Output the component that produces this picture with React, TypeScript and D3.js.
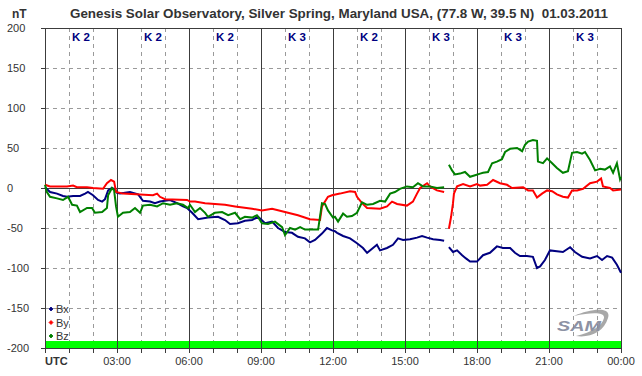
import React from "react";
import * as d3 from "d3";

const title = "Genesis Solar Observatory, Silver Spring, Maryland USA, (77.8 W, 39.5 N)  01.03.2011";
const unitLabel = "nT";
const kIndices = ["K 2", "K 2", "K 2", "K 3", "K 2", "K 3", "K 3", "K 3"];
const yTicks = [200, 150, 100, 50, 0, -50, -100, -150, -200];
const xTickLabels = ["UTC", "03:00", "06:00", "09:00", "12:00", "15:00", "18:00", "21:00", "00:00"];
const legendNames = ["Bx", "By", "Bz"];
const seriesColors = ["#000080", "#ff0000", "#008000"];

// hours UTC; null marks the data gap
const bxTimes = [0, 0.21, 0.5, 0.75, 0.92, 1.17, 1.46, 1.67, 1.79, 2.0, 2.21, 2.38, 2.5, 2.63, 2.79, 2.92, 3.0, 3.13, 3.54, 3.88, 4.08, 4.38, 4.58, 4.79, 5.0, 5.21, 5.5, 5.75, 5.92, 6.13, 6.38, 6.79, 7.21, 7.5, 7.71, 8.04, 8.33, 8.63, 8.88, 9.17, 9.46, 9.71, 10.0, 10.29, 10.54, 10.83, 11.04, 11.25, 11.54, 11.75, 11.96, 12.08, 12.17, 12.42, 12.71, 13.0, 13.25, 13.42, 13.54, 13.83, 13.96, 14.25, 14.5, 14.71, 14.92, 15.21, 15.5, 15.71, 15.92, 16.17, 16.46, 16.63, 16.73, 16.83, 17.0, 17.17, 17.38, 17.54, 17.71, 18.0, 18.25, 18.54, 18.83, 19.08, 19.38, 19.58, 19.79, 20.08, 20.33, 20.5, 20.63, 20.83, 21.04, 21.33, 21.58, 21.88, 22.08, 22.38, 22.71, 23.0, 23.21, 23.42, 23.63, 23.83, 24];
const bxValues = [1, -5, -7, -10, -11, -10, -10, -7, -5, -9, -15, -17, -14, -3, 0, -2, -6, -7, -5, -8, -16, -17, -19, -17, -16, -15, -19, -23, -25, -31, -39, -37, -36, -40, -45, -44, -41, -40, -36, -44, -42, -50, -55, -56, -61, -63, -68, -65, -57, -50, -53, -54, -56, -60, -63, -69, -75, -81, -78, -71, -78, -75, -71, -63, -65, -64, -62, -60, -62, -64, -65, -66, null, -74, -80, -78, -84, -88, -92, -92, -84, -81, -73, -75, -75, -81, -85, -85, -86, -100, -98, -90, -78, -79, -80, -74, -80, -86, -88, -85, -90, -85, -87, -96, -106];

const byTimes = [0, 0.21, 0.5, 0.92, 1.17, 1.33, 1.75, 2.0, 2.42, 2.58, 2.75, 2.88, 2.96, 3.25, 3.96, 4.5, 4.67, 4.79, 5.0, 5.92, 6.04, 6.25, 6.67, 7.5, 7.92, 8.63, 9.04, 9.46, 10.0, 10.54, 11.04, 11.46, 11.54, 11.79, 11.96, 12.29, 12.71, 12.92, 13.0, 13.21, 13.42, 13.96, 14.25, 14.46, 14.67, 15.08, 15.33, 15.5, 15.63, 15.92, 16.04, 16.33, 16.63, 16.73, 16.83, 16.92, 17.0, 17.04, 17.17, 17.42, 17.71, 18.0, 18.13, 18.42, 18.67, 18.96, 19.25, 19.46, 19.92, 20.13, 20.33, 20.5, 20.71, 20.92, 21.13, 21.33, 21.58, 21.79, 21.96, 22.17, 22.42, 22.71, 23.0, 23.17, 23.25, 23.54, 23.67, 24];
const byValues = [4, 2, 2, 2, 3, 1, 1, 0, -1, 6, 10, 8, -5, -7, -8, -9, -7, -11, -14, -15, -17, -17, -19, -21, -23, -26, -28, -26, -30, -34, -39, -40, -23, -11, -9, -7, -4, -5, -11, -19, -25, -26, -23, -17, -20, -22, -17, -7, 0, 6, 2, -3, -5, null, -51, -36, -19, -7, 2, 5, 2, 5, 3, 4, 10, 6, 4, 0, 1, -3, -3, -12, -7, -3, -4, -8, -11, -12, -3, -3, -1, 6, 8, 12, 2, 0, -3, -2];

const bzTimes = [0, 0.08, 0.21, 0.5, 0.75, 0.96, 1.13, 1.33, 1.46, 1.75, 1.96, 2.08, 2.38, 2.58, 2.63, 2.79, 2.88, 2.96, 3.04, 3.25, 3.54, 3.75, 3.96, 4.08, 4.38, 4.67, 4.92, 5.21, 5.5, 5.75, 5.96, 6.04, 6.25, 6.46, 6.67, 6.79, 7.08, 7.38, 7.63, 7.92, 8.13, 8.33, 8.63, 8.83, 9.04, 9.29, 9.58, 9.88, 10.0, 10.21, 10.42, 10.63, 10.83, 11.38, 11.54, 11.67, 11.79, 12.0, 12.08, 12.21, 12.42, 12.58, 12.79, 13.0, 13.21, 13.42, 13.67, 13.96, 14.17, 14.38, 14.58, 14.79, 15.08, 15.33, 15.54, 15.75, 16.04, 16.33, 16.63, 16.73, 16.83, 16.96, 17.08, 17.29, 17.5, 17.71, 17.92, 18.13, 18.25, 18.46, 18.63, 18.83, 19.04, 19.17, 19.38, 19.67, 19.88, 20.0, 20.13, 20.33, 20.5, 20.54, 20.75, 20.92, 21.13, 21.33, 21.58, 21.79, 21.96, 22.17, 22.38, 22.5, 22.71, 22.92, 23.13, 23.33, 23.54, 23.67, 23.83, 23.96, 24];
const bzValues = [4, -5, -11, -13, -15, -11, -21, -22, -30, -25, -25, -31, -30, -25, -9, 0, -3, -23, -36, -31, -30, -25, -31, -22, -21, -23, -19, -21, -19, -21, -25, -21, -30, -25, -31, -36, -31, -30, -34, -31, -39, -36, -37, -34, -44, -45, -42, -49, -59, -50, -52, -49, -52, -52, -19, -20, -28, -37, -36, -42, -32, -36, -35, -31, -18, -21, -20, -16, -17, -7, -5, -1, 2, 1, 6, 2, 2, 0, 1, null, 29, 22, 17, 18, 20, 14, 16, 18, 19, 20, 31, 33, 36, 45, 49, 50, 46, 54, 58, 60, 59, 33, 31, 37, 31, 25, 19, 21, 44, 45, 43, 45, 35, 22, 24, 23, 27, 19, 31, 11, 14];

const W = 642;
const H = 376;
const FONT = "'Liberation Sans', Arial, sans-serif";
const TXT = "#333333";

export default function App() {
  const x = d3.scaleLinear().domain([0, 24]).range([45, 621]);
  const y = d3.scaleLinear().domain([-200, 200]).range([348, 28]);
  const hours = d3.range(0, 25);

  const series = [
    { t: bxTimes, v: bxValues },
    { t: byTimes, v: byValues },
    { t: bzTimes, v: bzValues },
  ];
  const line = d3
    .line<[number, number | null]>()
    .defined((d) => d[1] !== null)
    .x((d) => x(d[0]))
    .y((d) => y(d[1] as number));

  const px = (v: number) => Math.round(v) + 0.5;

  return (
    <svg width={W} height={H} style={{ position: "absolute", left: 0, top: 0, background: "#fff" }} fontFamily={FONT}>
      <rect x={0} y={0} width={W} height={H} fill="#fff" />
      {/* title */}
      <text x={12} y={18} fontSize={12} fontWeight="bold" fill={TXT}>{unitLabel}</text>
      <text x={70} y={18} fontSize={12} fontWeight="bold" fill={TXT} textLength={538} lengthAdjust="spacingAndGlyphs" style={{ whiteSpace: "pre" }}>{title}</text>

      <g shapeRendering="crispEdges">
        {/* dashed grid */}
        {hours.filter((h) => h % 3 !== 0).map((h) => (
          <line key={"vd" + h} x1={px(x(h))} x2={px(x(h))} y1={y(200)} y2={y(-200)} stroke="#9a9a9a" strokeDasharray="4,4" />
        ))}
        {yTicks.filter((v) => v !== 0 && Math.abs(v) !== 200).map((v) => (
          <line key={"hd" + v} x1={x(0)} x2={x(24)} y1={px(y(v))} y2={px(y(v))} stroke="#9a9a9a" strokeDasharray="4,4" />
        ))}
        {/* green band */}
        <rect x={x(0)} y={y(-191)} width={x(24) - x(0)} height={y(-200) - y(-191)} fill="#00ff00" />
        {/* solid grid */}
        {hours.filter((h) => h % 3 === 0).map((h) => (
          <line key={"vs" + h} x1={px(x(h))} x2={px(x(h))} y1={y(200)} y2={y(-200)} stroke="#3c3c3c" />
        ))}
        <line x1={x(0)} x2={x(24)} y1={px(y(0))} y2={px(y(0))} stroke="#3c3c3c" />
        <line x1={x(0)} x2={x(24)} y1={px(y(200))} y2={px(y(200))} stroke="#3c3c3c" />
        <line x1={x(0)} x2={x(24) + 1} y1={px(y(-200))} y2={px(y(-200))} stroke="#3c3c3c" />

        {/* y ticks */}
        {yTicks.map((v) => (
          <line key={"yt" + v} x1={41} x2={x(0)} y1={px(y(v))} y2={px(y(v))} stroke="#3c3c3c" />
        ))}
        {/* x ticks */}
        {hours.map((h) => (
          <line key={"xt" + h} x1={px(x(h))} x2={px(x(h))} y1={y(-200)} y2={y(-200) + 5} stroke="#3c3c3c" />
        ))}
      </g>
      {yTicks.map((v) => (
        <text key={"yl" + v} x={7} y={y(v) + 4} fontSize={11} fill={TXT}>{v}</text>
      ))}
      {xTickLabels.map((lab, i) =>
        i === 0 ? (
          <text key={lab + i} x={x(0)} y={365} fontSize={11} fontWeight="bold" fill={TXT}>{lab}</text>
        ) : (
          <text key={lab + i} x={x(i * 3)} y={365} fontSize={11} fill={TXT} textAnchor="middle">{lab}</text>
        )
      )}

      {/* K indices */}
      {kIndices.map((k, i) => (
        <text key={"k" + i} x={x(i * 3 + 1.5)} y={41} fontSize={11.5} fontWeight="bold" fill="#000080" textAnchor="middle" style={{ whiteSpace: "pre" }}>{k}</text>
      ))}

      {/* series */}
      {series.map((s, i) => (
        <path
          key={"s" + i}
          d={line(s.t.map((t, j) => [t, s.v[j]] as [number, number | null])) || ""}
          fill="none"
          stroke={seriesColors[i]}
          strokeWidth={2}
          strokeLinejoin="miter"
        />
      ))}

      {/* legend */}
      {legendNames.map((n, i) => (
        <g key={"lg" + i}>
          <path d={`M${51},${309 + i * 13.5 - 2}l2,2l-2,2l-2,-2z`} fill={seriesColors[i]} stroke={seriesColors[i]} strokeWidth={0.8} />
          <text x={56} y={313 + i * 13.5} fontSize={11} fill={TXT}>{n}</text>
        </g>
      ))}

      {/* SAM logo */}
      <g opacity={0.85}>
        <path d="M574,316 C590,309 612,306 608,318 C604,332 590,338 576,336 C592,332 602,326 604,318 C605,312 592,312 574,316 Z" fill="#9a9a9a" />
        <text x={557} y={331} fontSize={14} fontStyle="italic" fontWeight="bold" fill="#7a7f95" textLength={44} lengthAdjust="spacingAndGlyphs">SAM</text>
      </g>
    </svg>
  );
}
